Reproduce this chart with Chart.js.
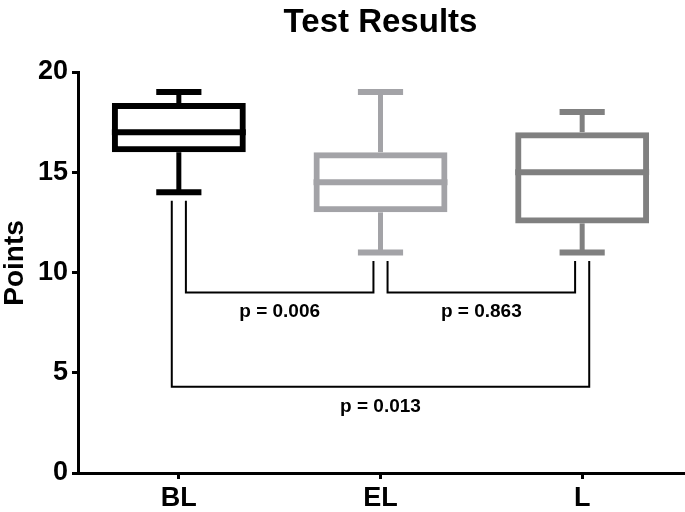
<!DOCTYPE html>
<html>
<head>
<meta charset="utf-8">
<script src="https://cdn.jsdelivr.net/npm/chart.js@4.4.0/dist/chart.umd.min.js"></script>
<style>
html,body{margin:0;padding:0;background:#fff;}
#wrap{width:685px;height:512px;}
</style>
</head>
<body>
<div id="wrap"><canvas id="c" width="685" height="512"></canvas></div>
<script>
// ---- data ----
const categories = ['BL', 'EL', 'L'];
const whiskerMin = [14, 11, 11];
const q1 = [16, 13, 12.45];
const median = [17, 14.5, 15];
const q3 = [18.45, 16, 17];
const whiskerMax = [19, 19, 18];
const boxColors = ['#000000', '#a3a3a7', '#808080'];
const yTicks = [0, 5, 10, 15, 20];
const comparisonFrom = [0, 1, 0];
const comparisonTo = [1, 2, 2];
const comparisonLevel = [9.0, 9.0, 4.3];
const comparisonSide = ['inner', 'inner', 'outer'];
const pLabels = ['p = 0.006', 'p = 0.863', 'p = 0.013'];
const chartTitle = 'Test Results';
const yTitle = 'Points';

const FAMILY = '"Liberation Sans", Arial, Helvetica, sans-serif';
Chart.defaults.font.family = FAMILY;
Chart.defaults.color = '#000';

const extras = {
  id: 'extras',
  afterDatasetsDraw(chart) {
    const { ctx, scales: { x, y }, chartArea } = chart;
    const cw = x.width / categories.length;
    const meta = chart.getDatasetMeta(0);
    const seg = (x1, y1, x2, y2) => { ctx.beginPath(); ctx.moveTo(x1, y1); ctx.lineTo(x2, y2); ctx.stroke(); };
    ctx.save();
    ctx.lineCap = 'butt';
    categories.forEach((c, i) => {
      const cx = x.getPixelForValue(i);
      const half = meta.data[i].width / 2;
      const capHalf = cw * 0.112;
      ctx.strokeStyle = boxColors[i];
      // median
      ctx.lineWidth = 6;
      seg(cx - half, y.getPixelForValue(median[i]), cx + half, y.getPixelForValue(median[i]));
      // stems
      ctx.lineWidth = 5;
      seg(cx, y.getPixelForValue(q3[i]), cx, y.getPixelForValue(whiskerMax[i]));
      seg(cx, y.getPixelForValue(q1[i]), cx, y.getPixelForValue(whiskerMin[i]));
      // caps
      ctx.lineWidth = 6;
      seg(cx - capHalf, y.getPixelForValue(whiskerMax[i]), cx + capHalf, y.getPixelForValue(whiskerMax[i]));
      seg(cx - capHalf, y.getPixelForValue(whiskerMin[i]), cx + capHalf, y.getPixelForValue(whiskerMin[i]));
    });
    // comparison brackets
    ctx.strokeStyle = '#000';
    ctx.fillStyle = '#000';
    ctx.lineWidth = 2;
    ctx.font = 'bold 19px ' + FAMILY;
    ctx.textAlign = 'center';
    ctx.textBaseline = 'middle';
    const off = cw * 0.035;
    comparisonFrom.forEach((f, k) => {
      const t = comparisonTo[k];
      const outer = comparisonSide[k] === 'outer';
      const xl = x.getPixelForValue(f) + (outer ? -off : off);
      const xr = x.getPixelForValue(t) + (outer ? off : -off);
      const yl = y.getPixelForValue(whiskerMin[f]) + 8.5;
      const yr = y.getPixelForValue(whiskerMin[t]) + 8.5;
      const yb = y.getPixelForValue(comparisonLevel[k]);
      ctx.beginPath();
      ctx.moveTo(xl, yl); ctx.lineTo(xl, yb); ctx.lineTo(xr, yb); ctx.lineTo(xr, yr);
      ctx.stroke();
      ctx.fillText(pLabels[k], (xl + xr) / 2, yb + 19.5);
    });
    // chart title
    ctx.textBaseline = 'alphabetic';
    ctx.font = 'bold 33px ' + FAMILY;
    ctx.fillText(chartTitle, (chartArea.left + chartArea.right) / 2, 32);
    // y axis title
    ctx.translate(23, 263);
    ctx.rotate(-Math.PI / 2);
    ctx.font = 'bold 28px ' + FAMILY;
    ctx.fillText(yTitle, 0, 0);
    ctx.restore();
  }
};

new Chart(document.getElementById('c'), {
  type: 'bar',
  data: {
    labels: categories,
    datasets: [{
      data: categories.map((c, i) => [q1[i], q3[i]]),
      backgroundColor: 'rgba(255,255,255,0)',
      borderColor: boxColors,
      borderWidth: 6,
      borderSkipped: false,
      barPercentage: 0.664,
      categoryPercentage: 1
    }]
  },
  options: {
    responsive: false,
    animation: false,
    events: [],
    layout: { padding: { top: 72, right: 2, left: 0, bottom: 0 } },
    plugins: { legend: { display: false }, tooltip: { enabled: false }, title: { display: false } },
    scales: {
      x: {
        grid: { display: true, offset: false, drawOnChartArea: false, drawTicks: true, tickLength: 6, lineWidth: 3, color: '#000' },
        border: { display: true, color: '#000', width: 3 },
        ticks: { color: '#000', font: { size: 27, weight: 'bold' }, padding: 3 },
        afterFit(s) { s.height = 39; }
      },
      y: {
        min: 0, max: 20,
        afterBuildTicks(s) { s.ticks = yTicks.map(v => ({ value: v })); },
        grid: { display: true, drawOnChartArea: false, drawTicks: true, tickLength: 6, lineWidth: 3, color: '#000' },
        border: { display: true, color: '#000', width: 3 },
        ticks: { color: '#000', font: { size: 27, weight: 'bold' }, padding: 4 },
        afterFit(s) { s.width = 78; }
      }
    }
  },
  plugins: [extras]
});
</script>
</body>
</html>
